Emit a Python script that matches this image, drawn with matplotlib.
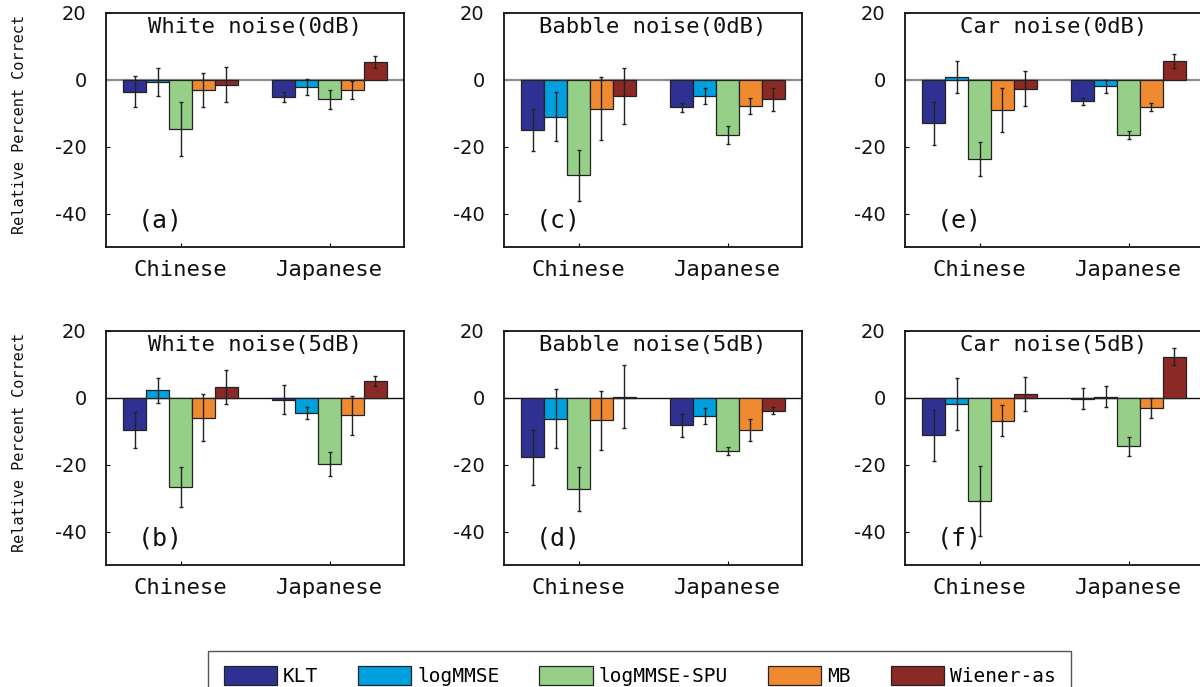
import matplotlib
matplotlib.use('Agg')
import matplotlib.pyplot as plt
import numpy as np
from matplotlib.patches import Patch

# ---------------- data ----------------
languages = ['Chinese', 'Japanese']
methods = ['KLT', 'logMMSE', 'logMMSE-SPU', 'MB', 'Wiener-as']
colors = ['#2E3192', '#009FDE', '#95CF88', '#F08A30', '#8B2926']

titles = [['White noise(0dB)', 'Babble noise(0dB)', 'Car noise(0dB)'],
          ['White noise(5dB)', 'Babble noise(5dB)', 'Car noise(5dB)']]
panel_tags = [['(a)', '(c)', '(e)'], ['(b)', '(d)', '(f)']]

# rows: Chinese, Japanese ; columns: KLT, logMMSE, logMMSE-SPU, MB, Wiener-as
white0_mean = [[-3.5, -0.7, -14.7, -3.0, -1.4], [-5.2, -2.1, -5.8, -3.0, 5.4]]
white0_err = [[4.6, 4.2, 8.2, 5.2, 5.3], [1.5, 2.4, 2.8, 2.6, 1.8]]
babble0_mean = [[-15.1, -11.0, -28.6, -8.6, -4.8], [-8.2, -4.9, -16.6, -7.9, -5.8]]
babble0_err = [[6.3, 7.3, 7.5, 9.5, 8.3], [1.4, 2.4, 2.7, 2.4, 3.5]]
car0_mean = [[-13.0, 0.8, -23.7, -9.0, -2.6], [-6.4, -1.9, -16.6, -8.0, 5.6]]
car0_err = [[6.4, 4.7, 5.1, 6.5, 5.2], [1.1, 2.0, 1.2, 1.2, 2.2]]
white5_mean = [[-9.6, 2.3, -26.7, -5.9, 3.3], [-0.6, -4.6, -19.8, -5.2, 5.0]]
white5_err = [[5.5, 3.7, 6.0, 7.0, 5.0], [4.3, 1.8, 3.6, 5.9, 1.4]]
babble5_mean = [[-17.8, -6.3, -27.3, -6.7, 0.4], [-8.2, -5.4, -15.9, -9.7, -3.8]]
babble5_err = [[8.3, 8.8, 6.5, 8.9, 9.4], [3.4, 2.3, 1.3, 3.3, 1.1]]
car5_mean = [[-11.2, -1.9, -30.9, -6.8, 1.2], [-0.2, 0.3, -14.5, -3.0, 12.3]]
car5_err = [[7.7, 7.7, 10.5, 4.7, 5.0], [3.0, 3.1, 2.8, 2.9, 2.5]]

means = [[white0_mean, babble0_mean, car0_mean], [white5_mean, babble5_mean, car5_mean]]
errs = [[white0_err, babble0_err, car0_err], [white5_err, babble5_err, car5_err]]

yticks = [20, 0, -20, -40]
ylabel = 'Relative Percent Correct'

# ---------------- figure ----------------
W, H = 1200, 687
fig = plt.figure(figsize=(W / 100, H / 100), dpi=100)

mono = 'DejaVu Sans Mono'
lefts = [106, 504, 905]
tops = [13, 331]
aw, ah = 298, 234
bw = 0.154
x = np.arange(len(languages))

for r in range(2):
    for c in range(3):
        ax = fig.add_axes([lefts[c] / W, 1 - (tops[r] + ah) / H, aw / W, ah / H])
        m = np.array(means[r][c])
        e = np.array(errs[r][c])
        ax.axhline(0, color='#8c8c8c' if r == 0 else '#111111',
                   lw=1.6 if r == 0 else 1.0, zorder=2)
        for i in range(len(methods)):
            xi = x + (i - 2) * bw
            ax.bar(xi, m[:, i], bw, color=colors[i], edgecolor='#222222',
                   linewidth=0.9, zorder=3)
            ax.errorbar(xi, m[:, i], yerr=e[:, i], fmt='none', ecolor='#222222',
                        elinewidth=1.0, capsize=1.5, capthick=1.0, zorder=4)
        ax.set_xlim(-0.5, 1.5)
        ax.set_ylim(-50, 20)
        ax.set_yticks(yticks)
        ax.set_yticklabels([str(t) for t in yticks], fontsize=14,
                           family='DejaVu Sans', color='#111111')
        ax.set_xticks(x)
        ax.set_xticklabels(languages, fontsize=16, family=mono, color='#111111')
        ax.tick_params(axis='y', direction='in', length=3, pad=14, width=0.8)
        ax.tick_params(axis='x', direction='in', length=3, pad=9, width=0.8)
        for sp in ax.spines.values():
            sp.set_linewidth(1.3)
            sp.set_color('#111111')
        ax.text(0.5, 1 - 14.5 / ah, titles[r][c], transform=ax.transAxes,
                ha='center', va='center', fontsize=16, family=mono, color='#111111')
        ax.text(0.105, 0.115, panel_tags[r][c], transform=ax.transAxes,
                ha='left', va='center', fontsize=18, family=mono, color='#111111')
        if c == 0:
            fig.text(20 / W, 1 - (tops[r] + ah / 2 - 6) / H, ylabel, rotation=90,
                     ha='center', va='center', fontsize=11, family=mono,
                     color='#111111')

handles = [Patch(facecolor=colors[i], edgecolor='#222222', linewidth=0.9)
           for i in range(len(methods))]
leg = fig.legend(handles, methods, loc='upper center',
                 bbox_to_anchor=(639.5 / W, 1 - 641 / H), ncol=5,
                 prop={'family': mono, 'size': 14},
                 handlelength=2.73, handleheight=1.08, handletextpad=0.31,
                 columnspacing=2.06, borderpad=0.8, fancybox=False,
                 edgecolor='#555555', framealpha=1)
leg.get_frame().set_linewidth(1.0)

fig.savefig('out.png', dpi=100)
